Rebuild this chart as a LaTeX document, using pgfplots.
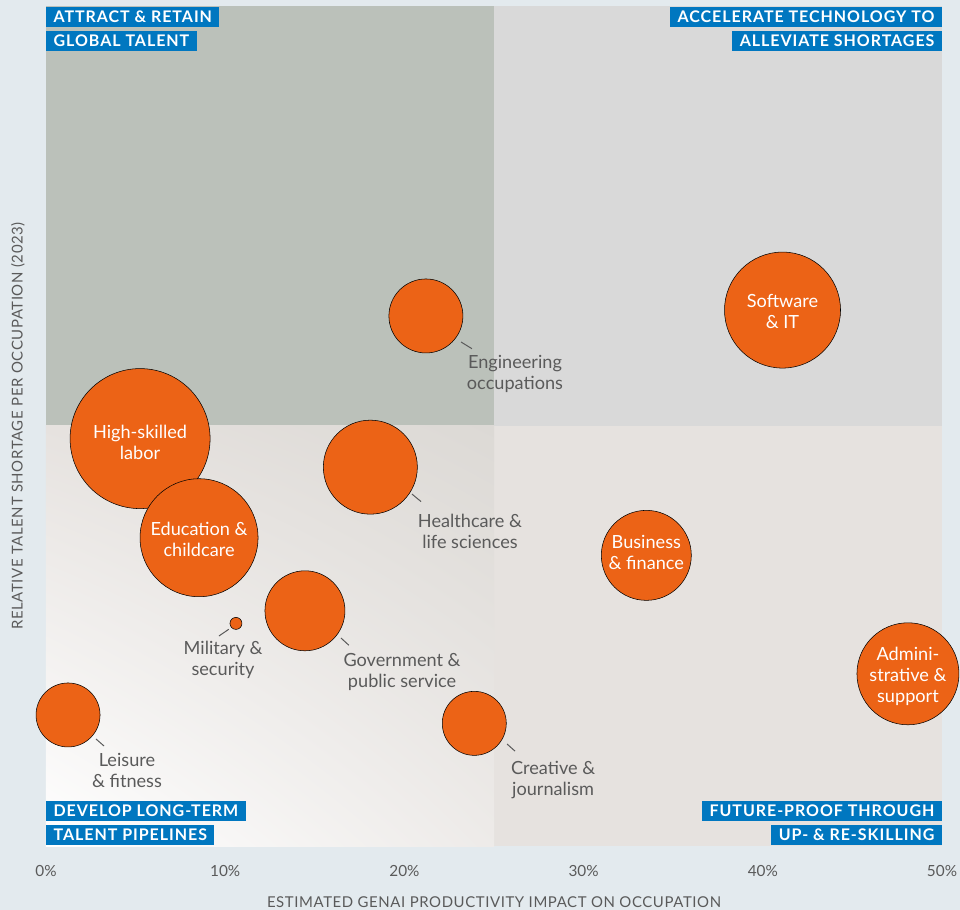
\documentclass[border=0pt]{standalone}
\usepackage{pgfplots}
\pgfplotsset{compat=1.18}
\usetikzlibrary{shadings}
\usepackage{fontspec}
\setmainfont{Lato}
\definecolor{bgc}{HTML}{E3EAEE}
\definecolor{qtl}{HTML}{BBC1BA}
\definecolor{qtr}{HTML}{D9D9D9}
\definecolor{qbr}{HTML}{E6E2DF}
\definecolor{qbl}{HTML}{DCD9D5}
\definecolor{bubble}{HTML}{EC6316}
\definecolor{boxblue}{HTML}{0077C0}
\definecolor{txtgray}{HTML}{5A5A5A}

\pgfplotstableread{
x     y     r
41.1  63.8  43.5
21.2  63.1  27.75
5.25  48.5  52.5
18.1  45.1  35.25
8.54  36.7  44.25
33.5  34.6  33.75
10.6  26.5  4.5
14.45 28.0  30
48.1  20.5  38.25
1.23  15.6  24
23.9  14.6  24
}\bubbles

\tikzset{
  quad/.style={fill=boxblue, text=white,
    font=\fontsize{12}{13}\selectfont\bfseries\addfontfeatures{LetterSpace=6},
    inner xsep=5.5pt, inner ysep=3.5pt, text height=8pt, text depth=0pt},
  inlab/.style={text=white, align=center, font=\fontsize{13.6}{15.75}\selectfont},
  outlab/.style={text=txtgray, align=center, font=\fontsize{13.6}{15.75}\selectfont},
  lead/.style={draw=txtgray, line width=0.75pt}
}

\begin{document}
\begin{tikzpicture}
\useasboundingbox (0pt,0pt) rectangle (720pt,682.5pt);
\fill[bgc] (0pt,0pt) rectangle (720pt,682.5pt);
\begin{axis}[
    at={(34.5pt,48pt)}, anchor=south west,
    width=672pt, height=630pt, scale only axis,
    xmin=0, xmax=50, ymin=0, ymax=100,
    clip=false,
    axis line style={draw=none},
    major tick length=0pt,
    ytick=\empty,
    xtick={0,10,20,30,40,50},
    xticklabels={0\%,10\%,20\%,30\%,40\%,50\%},
    xticklabel style={text=txtgray, font=\fontsize{11.5}{12}\selectfont, yshift=-11pt},
    xlabel={ESTIMATED GENAI PRODUCTIVITY IMPACT ON OCCUPATION},
    xlabel style={at={(axis description cs:0.5,-0.0667)}, anchor=center, text=txtgray,
      font=\fontsize{11.2}{12}\selectfont\addfontfeatures{LetterSpace=4}},
    ylabel={RELATIVE TALENT SHORTAGE PER OCCUPATION (2023)},
    ylabel style={at={(axis description cs:-0.03125,0.5)}, anchor=center, text=txtgray,
      font=\fontsize{11.2}{12}\selectfont\addfontfeatures{LetterSpace=4}},
]
% quadrants
\fill[qtl] (axis cs:0,50) rectangle (axis cs:25,100);
\fill[qtr] (axis cs:25,50) rectangle (axis cs:50,100);
\fill[qbr] (axis cs:25,0) rectangle (axis cs:50,50);
\shade[lower left=white, upper right=qbl, upper left=qbr, lower right=qbr!70!white]
  (axis cs:0,0) rectangle (axis cs:25,50);

% bubbles
\addplot[scatter, only marks, mark=*, scatter src=explicit,
  mark options={fill=bubble, draw=none},
  visualization depends on={\thisrow{r} \as \rad},
  scatter/@pre marker code/.style={/tikz/mark size=\rad},
  scatter/@post marker code/.style={}]
  table[x=x, y=y, meta=r] {\bubbles};

% leader lines
\draw[lead] (axis cs:23.16,60.0) -- (axis cs:23.77,59.2);
\draw[lead] (axis cs:20.42,41.9) -- (axis cs:20.93,41.0);
\draw[lead] (axis cs:9.65,25.0) -- (axis cs:10.2,25.8);
\draw[lead] (axis cs:16.46,24.76) -- (axis cs:16.9,23.9);
\draw[lead] (axis cs:2.79,12.74) -- (axis cs:3.24,11.9);
\draw[lead] (axis cs:25.73,12.14) -- (axis cs:26.17,11.3);

% label anchors
\coordinate (soft) at (axis cs:41.1,63.6);
\coordinate (high) at (axis cs:5.25,48.1);
\coordinate (edu)  at (axis cs:8.54,36.5);
\coordinate (bus)  at (axis cs:33.5,34.9);
\coordinate (adm)  at (axis cs:48.1,20.2);
\coordinate (eng)  at (axis cs:26.17,56.2);
\coordinate (hea)  at (axis cs:23.66,37.5);
\coordinate (mil)  at (axis cs:9.88,22.2);
\coordinate (gov)  at (axis cs:19.87,20.7);
\coordinate (lei)  at (axis cs:4.52,9.0);
\coordinate (cre)  at (axis cs:28.3,7.9);

% quadrant title anchors
\coordinate (tl) at (rel axis cs:0,1);
\coordinate (tr) at (rel axis cs:1,1);
\coordinate (bl) at (rel axis cs:0,0);
\coordinate (br) at (rel axis cs:1,0);
\end{axis}

\node[inlab] at (soft) {Software\\\& IT};
\node[inlab] at (high) {High-skilled\\labor};
\node[inlab] at (edu) {Education \&\\childcare};
\node[inlab] at (bus) {Business\\\& finance};
\node[inlab] at (adm) {Admini-\\strative \&\\support};

\node[outlab] at (eng) {Engineering\\occupations};
\node[outlab] at (hea) {Healthcare \&\\life sciences};
\node[outlab] at (mil) {Military \&\\security};
\node[outlab] at (gov) {Government \&\\public service};
\node[outlab] at (lei) {Leisure\\\& fitness};
\node[outlab] at (cre) {Creative \&\\journalism};

\node[quad, anchor=north west] at ([yshift=-0.75pt]tl) {ATTRACT \& RETAIN};
\node[quad, anchor=north west] at ([yshift=-18.75pt]tl) {GLOBAL TALENT};
\node[quad, anchor=north east] at ([yshift=-0.75pt]tr) {ACCELERATE TECHNOLOGY TO};
\node[quad, anchor=north east] at ([yshift=-18.75pt]tr) {ALLEVIATE SHORTAGES};
\node[quad, anchor=south west] at ([yshift=18.75pt]bl) {DEVELOP LONG-TERM};
\node[quad, anchor=south west] at ([yshift=0.75pt]bl) {TALENT PIPELINES};
\node[quad, anchor=south east] at ([yshift=18.75pt]br) {FUTURE-PROOF THROUGH};
\node[quad, anchor=south east] at ([yshift=0.75pt]br) {UP- \& RE-SKILLING};
\end{tikzpicture}
\end{document}
